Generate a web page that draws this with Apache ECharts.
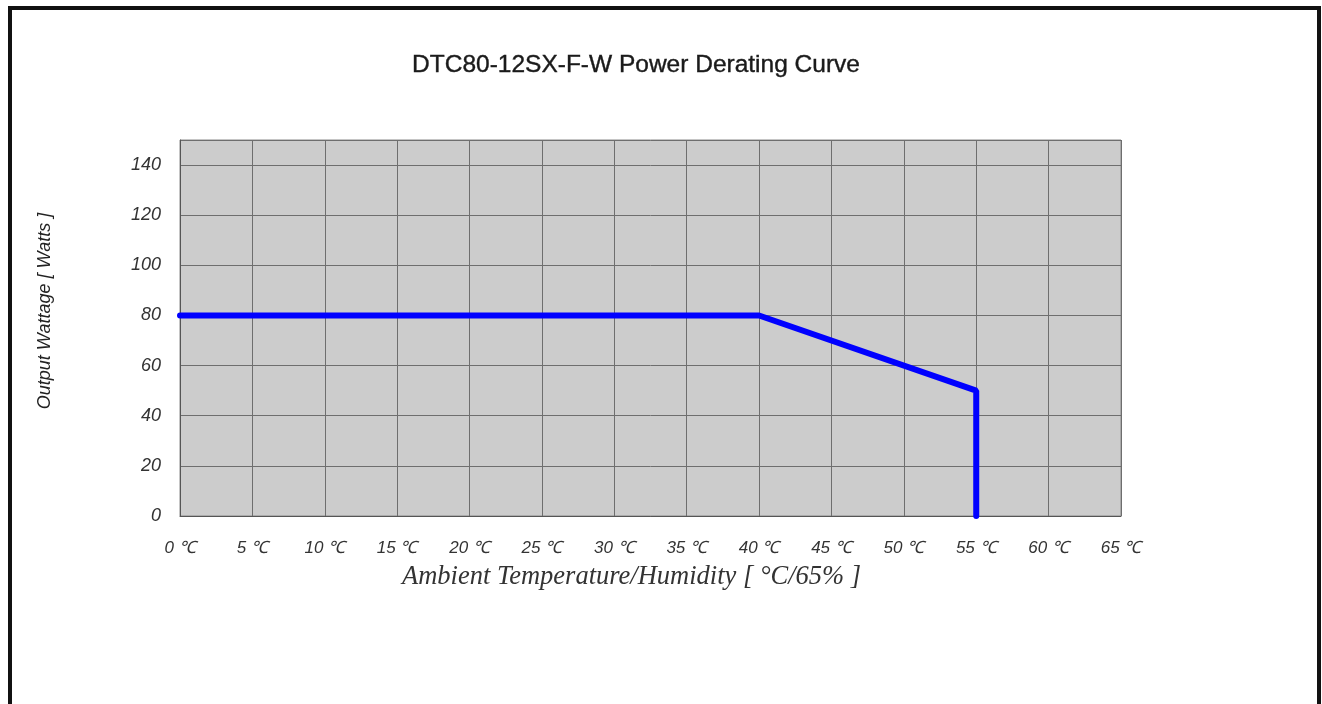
<!DOCTYPE html>
<html>
<head>
<meta charset="utf-8">
<script src="https://cdn.jsdelivr.net/npm/echarts@6/dist/echarts.min.js"></script>
<style>
  html, body { margin: 0; padding: 0; background: #fff; }
  #chart { width: 1322px; height: 704px; }
</style>
</head>
<body>
<div id="chart"></div>
<script>
// derating curve points: temperature (°C) / output (W)
const temps = [0, 40, 55, 55];
const watts = [80, 80, 50, 0];
const xTicks = [0, 5, 10, 15, 20, 25, 30, 35, 40, 45, 50, 55, 60, 65];
const yTicks = [0, 20, 40, 60, 80, 100, 120, 140];

const chart = echarts.init(document.getElementById('chart'));

const points = temps.map((t, i) => [t, watts[i]]);

chart.setOption({
    animation: false,
    backgroundColor: '#fff',
    title: {
        text: 'DTC80-12SX-F-W Power Derating Curve',
        left: 631,
        textAlign: 'center',
        top: 48,
        textStyle: {
            fontFamily: 'Liberation Sans, Arial, sans-serif',
            fontSize: 24.5,
            fontWeight: 'normal',
            color: '#1a1a1a',
            textBorderColor: '#1a1a1a',
            textBorderWidth: 0.4
        }
    },
    graphic: [{
        type: 'rect',
        shape: { x: 10, y: 8, width: 1309, height: 740 },
        style: { fill: 'none', stroke: '#111', lineWidth: 4 },
        z: 100
    }],
    grid: {
        left: 180,
        top: 140,
        right: 201,
        bottom: 188,
        show: true,
        backgroundColor: '#cccccc',
        borderColor: '#8a8a8a',
        borderWidth: 1
    },
    xAxis: {
        type: 'value',
        min: xTicks[0],
        max: xTicks[xTicks.length - 1],
        interval: 5,
        name: 'Ambient Temperature/Humidity [ °C/65% ]',
        nameLocation: 'middle',
        nameGap: 48,
        nameTextStyle: {
            fontFamily: 'Liberation Serif, Times New Roman, serif',
            fontStyle: 'italic',
            fontSize: 26.5,
            color: '#333',
            padding: [0, 38, 0, 0]
        },
        axisLine: { lineStyle: { color: '#555', width: 1 } },
        axisTick: { show: false },
        axisLabel: {
            margin: 24,
            formatter: '{value} ℃',
            fontFamily: 'Liberation Sans, Arial, sans-serif',
            fontStyle: 'italic',
            fontSize: 17,
            color: '#333'
        },
        splitLine: { lineStyle: { color: '#6e6e6e', width: 1 } }
    },
    yAxis: {
        type: 'value',
        min: yTicks[0],
        max: 150,
        interval: 20,
        name: 'Output Wattage [ Watts ]',
        nameLocation: 'middle',
        nameGap: 126,
        nameTextStyle: {
            fontFamily: 'Liberation Sans, Arial, sans-serif',
            fontStyle: 'italic',
            fontSize: 18,
            color: '#222',
            padding: [0, 0, 0, 34]
        },
        axisLine: { show: true, lineStyle: { color: '#555', width: 1 } },
        axisTick: { show: false },
        axisLabel: {
            margin: 19,
            showMaxLabel: false,
            formatter: v => (yTicks.indexOf(v) >= 0 ? String(v) : ''),
            fontFamily: 'Liberation Sans, Arial, sans-serif',
            fontStyle: 'italic',
            fontSize: 18,
            color: '#333'
        },
        splitLine: { lineStyle: { color: '#6e6e6e', width: 1 } }
    },
    series: [{
        type: 'line',
        data: points,
        symbol: 'none',
        clip: false,
        lineStyle: { color: '#0000ff', width: 6, cap: 'round' },
        z: 10
    }]
});
</script>
</body>
</html>
